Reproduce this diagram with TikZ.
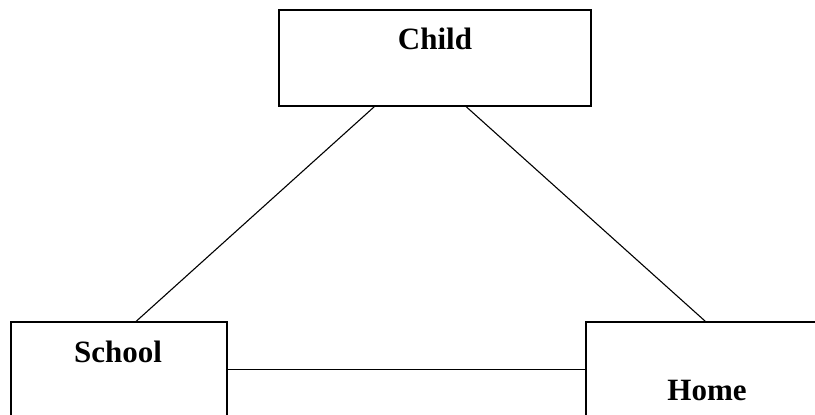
\documentclass[tikz,border=0pt]{standalone}
\usepackage{fontspec}
\setmainfont{Liberation Serif}
\usetikzlibrary{calc}
\begin{document}
\begin{tikzpicture}[x=1pt,y=-1pt,
  box/.style={draw,line width=1.5pt,rectangle,inner sep=0pt},
  lbl/.style={font=\fontsize{31}{36}\selectfont\bfseries,inner sep=0pt},
  link/.style={line width=1.1pt}]
\useasboundingbox (0,0) rectangle (815,415);
\node[box,minimum width=312pt,minimum height=96pt] (child) at (435,58) {};
\node[box,minimum width=216pt,minimum height=120pt] (school) at (119,382) {};
\node[box,minimum width=260pt,minimum height=120pt] (home) at (716,382) {};
\node[lbl] (tchild) at (435,39) {Child};
\node[lbl] (tschool) at (118,352) {School};
\node[lbl] (thome) at (707,390) {Home};
\coordinate (cl) at ($(child.south west)+(96,0)$);
\coordinate (cr) at ($(child.south west)+(188,0)$);
\coordinate (st) at ($(school.north west)+(126,0)$);
\coordinate (ht) at ($(home.north west)+(120,0)$);
\coordinate (se) at ($(school.north east)+(0,48)$);
\coordinate (hw) at ($(home.north west)+(0,48)$);
\draw[link] (cl) -- (st);
\draw[link] (cr) -- (ht);
\draw[link] (se) -- (hw);
\end{tikzpicture}
\end{document}
